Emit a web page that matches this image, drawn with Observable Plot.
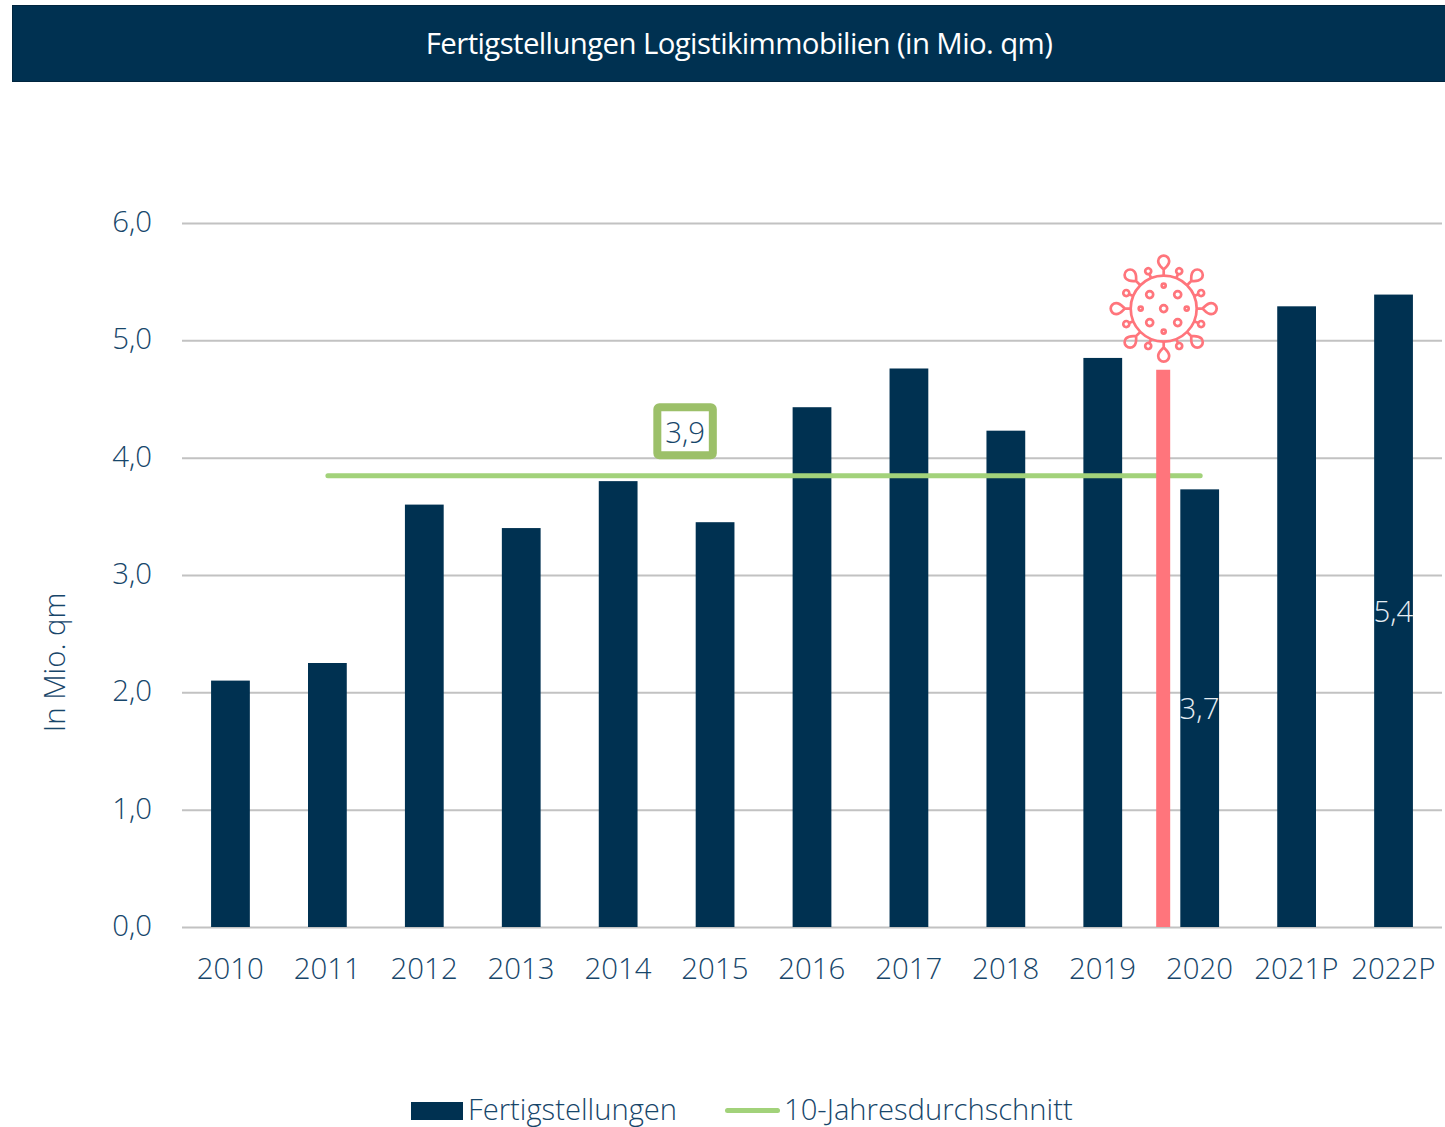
<!DOCTYPE html>
<html lang="de">
<head>
<meta charset="utf-8">
<script src="https://cdn.jsdelivr.net/npm/d3@7"></script>
<script src="https://cdn.jsdelivr.net/npm/@observablehq/plot@0.6"></script>
<style>
html,body{margin:0;padding:0;background:#fff;overflow:hidden}
body{width:1445px;height:1127px;font-family:"Open Sans",sans-serif;font-weight:300;color:#17466a}
#header{box-sizing:border-box;margin:5px 0 0 12px;width:1433px;height:77px;background:#003151;border:1px solid #00253e;border-right:0;color:#fff;font-size:29.4px;font-weight:400;letter-spacing:-.61px;display:flex;align-items:center;justify-content:center;padding-left:20px;padding-bottom:2px}
#chart svg{display:block;font-family:"Open Sans",sans-serif;font-weight:300}
#legend{position:absolute;left:0;top:1091px;height:36px;width:1445px;font-size:29.2px}
#legend span{position:absolute;white-space:nowrap;line-height:36px;top:0;padding-bottom:0}
#legend i{position:absolute;display:block}
</style>
</head>
<body>
<div id="header">Fertigstellungen Logistikimmobilien (in Mio. qm)</div>
<div id="chart"></div>
<div id="legend">
  <i style="left:411px;top:11px;width:52px;height:18px;background:#003151"></i>
  <span style="left:468px">Fertigstellungen</span>
  <i style="left:725px;top:17px;width:55px;height:5px;border-radius:3px;background:#a2d27a"></i>
  <span style="left:784px">10-Jahresdurchschnitt</span>
</div>
<script>
const years = ["2010","2011","2012","2013","2014","2015","2016","2017","2018","2019","2020","2021P","2022P"];
const completions = [2.1,2.25,3.6,3.4,3.8,3.45,4.43,4.76,4.23,4.85,3.73,5.29,5.39];
const averageYears = ["2011","2020"];
const averageValue = 3.85;
const averageLabel = "3,9";
const averageLabelYear = "2015";
const averageLabelLevel = 4.23;
const covidYear = "2020";
const covidTop = 4.75;
const covidIconLevel = 5.275;
const labelledYears = ["2020","2022P"];
const yTicks = [0,1,2,3,4,5,6];
const yTitle = "In Mio. qm";
const yTitleLevel = 2.26;

const navy = "#003151", ink = "#17466a", green = "#a2d27a", boxGreen = "#9cc069", red = "#ff757c", grid = "#c2c2c2";
const fontSize = 29.4;
const bars = years.map((year, i) => ({year, value: completions[i]}));
const comma = v => v.toFixed(1).replace(".", ",");

// Virus icon, as a standalone SVG used by an image mark
function virusIcon() {
  const parts = [`<circle cx="53" cy="53" r="33"/>`];
  const drop = `M53 20V14C50 11 47.5 9.5 47.5 5.5A5.5 5.5 0 0 1 58.5 5.5C58.5 9.5 56 11 53 14`;
  for (let k = 0; k < 16; k++) {
    const a = k * 22.5;
    if (k % 2 === 0) {
      parts.push(`<path transform="rotate(${a} 53 53)" d="${drop}"/>`);
    } else {
      parts.push(`<g transform="rotate(${a} 53 53)"><path d="M53 20V15.5"/><circle cx="53" cy="12.5" r="3"/></g>`);
    }
  }
  const big = [[53,53],[39,39],[67,39],[39,67],[67,67]];
  const small = [[53,30],[53,76],[30,53],[76,53]];
  big.forEach(([x,y]) => parts.push(`<circle cx="${x}" cy="${y}" r="3.5"/>`));
  small.forEach(([x,y]) => parts.push(`<circle cx="${x}" cy="${y}" r="2"/>`));
  const svg = `<svg xmlns="http://www.w3.org/2000/svg" width="110" height="110" viewBox="-2 -2 110 110" fill="none" stroke="${red}" stroke-width="2.7">${parts.join("")}</svg>`;
  return "data:image/svg+xml," + encodeURIComponent(svg);
}

// Rounded box behind the average label
const roundedBox = {
  draw(ctx) {
    const w = 27.75, h = 24, r = 2;
    ctx.moveTo(-w + r, -h);
    ctx.arcTo(w, -h, w, h, r);
    ctx.arcTo(w, h, -w, h, r);
    ctx.arcTo(-w, h, -w, -h, r);
    ctx.arcTo(-w, -h, w, -h, r);
    ctx.closePath();
  }
};

const chart = Plot.plot({
  width: 1445,
  height: 1006,
  marginTop: 141,
  marginBottom: 161,
  marginLeft: 182,
  marginRight: 3,
  style: {fontFamily: '"Open Sans", sans-serif', fontSize: fontSize + "px", fontWeight: 300, color: ink, background: "transparent"},
  x: {domain: years, paddingInner: 0.6, paddingOuter: 0.3, round: false, label: null},
  y: {domain: [0, 6], label: null},
  marks: [
    Plot.ruleY(yTicks, {stroke: grid, strokeWidth: 2}),
    Plot.axisY({ticks: yTicks, tickSize: 0, tickPadding: 30, tickFormat: comma, fill: ink, label: null, fontSize, dy: -1, dx: -0.5}),
    Plot.axisX({tickSize: 0, tickPadding: 31, fill: ink, label: null, fontSize, dx: -0.7}),
    Plot.text([yTitle], {y: () => yTitleLevel, frameAnchor: "left", textAnchor: "middle", rotate: -90, dx: -127, fill: ink, fontSize, text: d => d}),
    Plot.barY(bars, {x: "year", y: "value", fill: navy}),
    Plot.line(averageYears, {x: d => d, y: () => averageValue, stroke: green, strokeWidth: 5}),
    Plot.ruleX([covidYear], {x: d => d, y1: 0, y2: covidTop, stroke: red, strokeWidth: 14, dx: -37}),
    Plot.image([covidYear], {x: d => d, y: () => covidIconLevel, src: virusIcon, width: 110, height: 110, dx: -36.5}),
    Plot.text(bars.filter(d => labelledYears.includes(d.year)), {x: "year", y: d => d.value / 2, text: d => comma(d.value), fill: "#e6ecf1", fontSize, dy: 1, dx: -0.7}),
    Plot.dot([averageLabelYear], {x: d => d, y: () => averageLabelLevel, symbol: roundedBox, fill: "#fff", stroke: boxGreen, strokeWidth: 8, dx: -30.5}),
    Plot.text([averageLabelYear], {x: d => d, y: () => averageLabelLevel, text: () => averageLabel, fill: ink, fontSize, dx: -30.5, dy: 2})
  ]
});
document.getElementById("chart").append(chart);
</script>
</body>
</html>
